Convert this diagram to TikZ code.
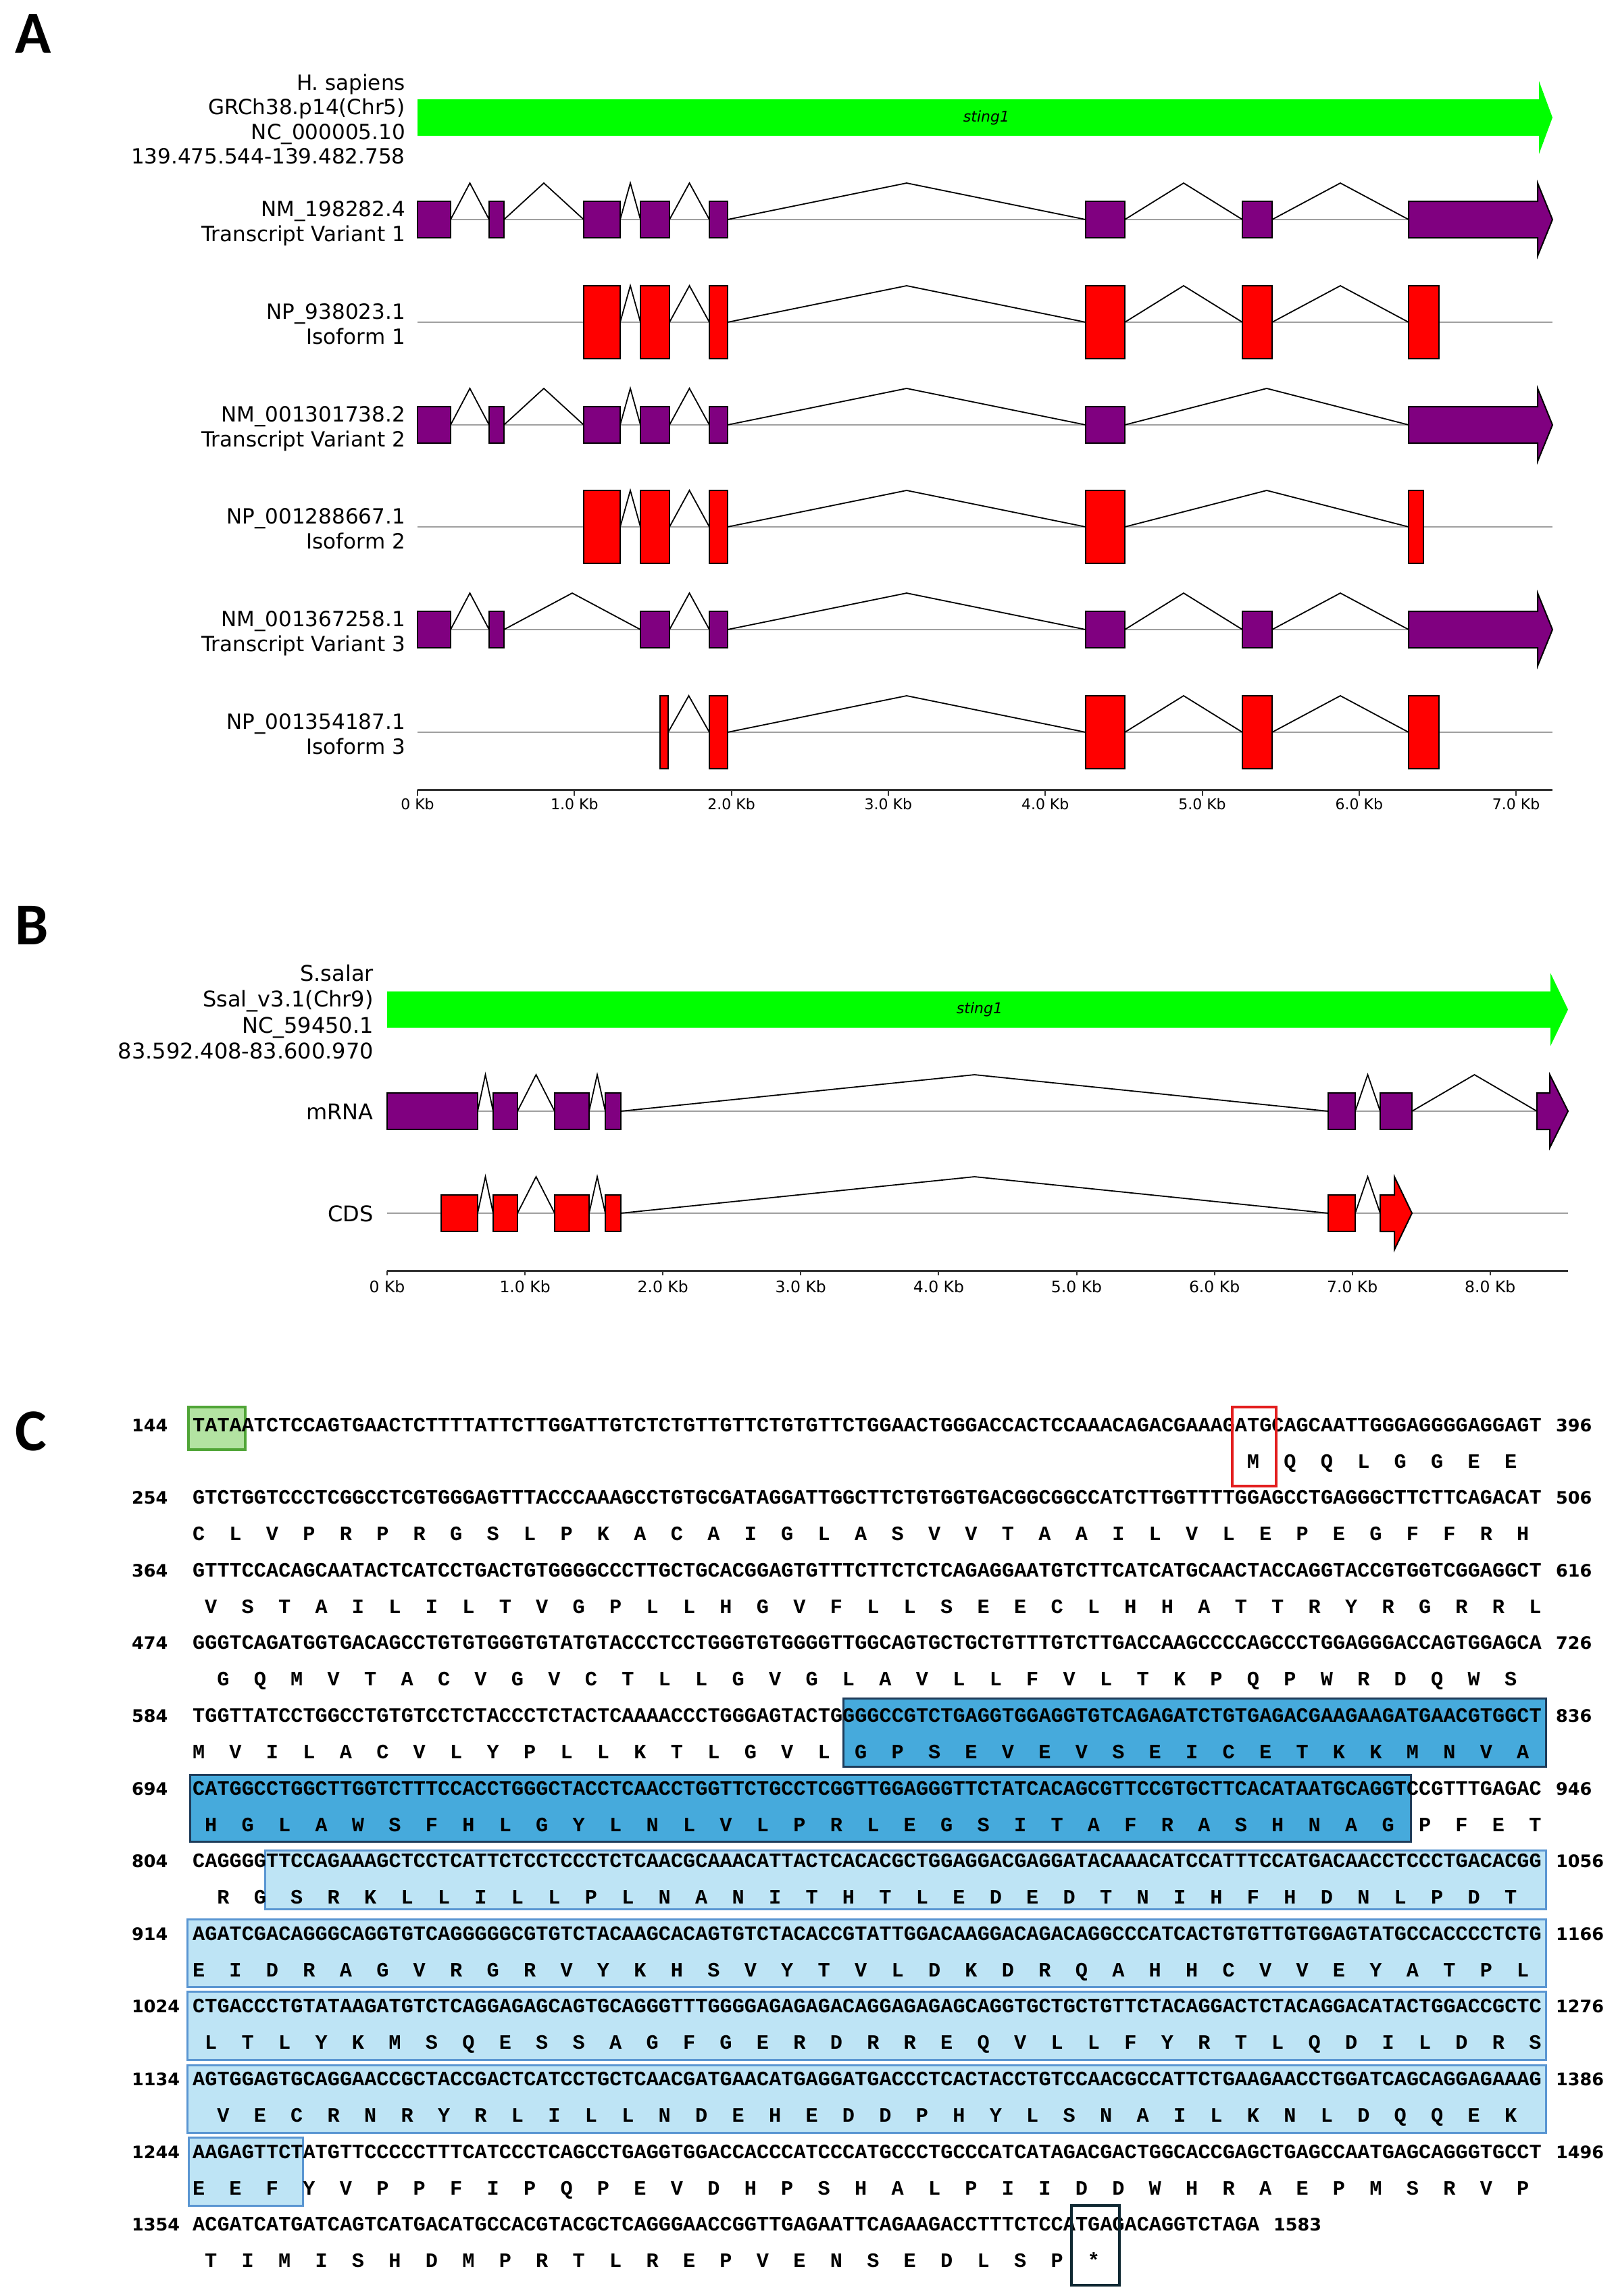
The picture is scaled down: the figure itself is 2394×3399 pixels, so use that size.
\documentclass[tikz,border=0pt]{standalone}
\usepackage{fontspec}
\setmainfont{DejaVu Sans}
\newfontfamily\seqfont{Liberation Mono}
\newfontfamily\panfont{Carlito}
\newfontfamily\numfont{DejaVu Sans}
\definecolor{exgreen}{HTML}{00FF00}
\definecolor{expurple}{HTML}{800080}
\definecolor{exred}{HTML}{FF0000}
\definecolor{linegray}{HTML}{A0A0A0}
\definecolor{axisgray}{HTML}{333333}
\definecolor{tataFill}{HTML}{B3E3A2}
\definecolor{tataDraw}{HTML}{50A537}
\definecolor{dkFill}{HTML}{46AADC}
\definecolor{dkDraw}{HTML}{1E3C5A}
\definecolor{ltFill}{HTML}{BEE4F5}
\definecolor{ltDraw}{HTML}{5A96D2}
\definecolor{atgDraw}{HTML}{E31E1E}
\definecolor{stopDraw}{HTML}{0F2832}
\tikzset{
  gline/.style={draw=linegray, line width=2.5},
  intr/.style={draw=black, line width=1.8},
  pex/.style={fill=expurple, draw=black, line width=2},
  rex/.style={fill=exred, draw=black, line width=2},
  lab/.style={inner sep=0, anchor=base east, font=\fontsize{31}{36}\selectfont},
  labB/.style={inner sep=0, anchor=base east, font=\fontsize{32}{38}\selectfont},
  tlA/.style={inner sep=0, anchor=base, font=\fontsize{22}{26}\selectfont},
  tlB/.style={inner sep=0, anchor=base, font=\fontsize{23.5}{28}\selectfont},
  axisln/.style={draw=axisgray, line width=3},
  tickln/.style={draw=axisgray, line width=2},
  panel/.style={inner sep=0, anchor=base west, font=\panfont\bfseries\fontsize{88}{100}\selectfont},
  nt/.style={inner sep=0, anchor=base west, font=\seqfont\bfseries\fontsize{30.25}{36}\selectfont},
  aa/.style={inner sep=0, anchor=base, font=\seqfont\bfseries\fontsize{30.25}{36}\selectfont},
  num/.style={inner sep=0, anchor=base west, font=\numfont\bfseries\fontsize{25.5}{30}\selectfont},
  genename/.style={inner sep=0, font=\itshape\fontsize{22}{26}\selectfont},
  ltbox/.style={fill=ltFill, draw=ltDraw, line width=3},
  dkbox/.style={fill=dkFill, draw=dkDraw, line width=3},
}
\newcommand\gEx[5]{\filldraw[#5] (#1,{#3-#4}) rectangle (#2,{#3+#4});}
\newcommand\gIn[3]{\draw[intr] (#1,#3) -- ({(#1+#2)/2},{#3-54}) -- (#2,#3);}
\newcommand\gArr[7]{\filldraw[#7] (#1,{#4-#5}) -- (#2,{#4-#5}) -- (#2,{#4-#6}) -- (#3,#4) -- (#2,{#4+#6}) -- (#2,{#4+#5}) -- (#1,{#4+#5}) -- cycle;}
\newcommand\aaRow[4]{\foreach \c [count=\i from 0] in {#4} {\node[aa] (#1-\i) at ({285+18.15*(#3+0.5+3*\i)},#2) {\c};}}
\begin{document}
\begin{tikzpicture}[x=1pt,y=-1pt]
\useasboundingbox[fill=white] (0,0) rectangle (2394,3399);

% ---------------- Panel A ----------------
\node[panel] (lA) at (22,78) {A};
\node[lab] (a1) at (600,133) {H. sapiens};
\node[lab] (a2) at (600,169.5) {GRCh38.p14(Chr5)};
\node[lab] (a3) at (600,206) {NC\_000005.10};
\node[lab] (a4) at (600,242) {139.475.544-139.482.758};
\fill[exgreen] (618,147) -- (2278,147) -- (2278,120) -- (2298,174) -- (2278,228) -- (2278,201) -- (618,201) -- cycle;
\node[genename] (gA) at (1460,174) {sting1};

% TV1
\draw[gline] (618,325) -- (2298,325);
\foreach \a/\b in {667/724,746/864,918/948,991/1050,1077/1607,1665/1839,1883/2085} {\gIn{\a}{\b}{325}}
\foreach \a/\b in {618/667,724/746,864/918,948/991,1050/1077,1607/1665,1839/1883} {\gEx{\a}{\b}{325}{27}{pex}}
\gArr{2085}{2276}{2298}{325}{27}{54}{pex}
\node[lab] (t1a) at (600,320.5) {NM\_198282.4};
\node[lab] (t1b) at (600,357) {Transcript Variant 1};
% Iso1
\draw[gline] (618,477) -- (2298,477);
\foreach \a/\b in {918/948,991/1050,1077/1607,1665/1839,1883/2085} {\gIn{\a}{\b}{477}}
\foreach \a/\b in {864/918,948/991,1050/1077,1607/1665,1839/1883,2085/2130} {\gEx{\a}{\b}{477}{54}{rex}}
\node[lab] (i1a) at (600,472.5) {NP\_938023.1};
\node[lab] (i1b) at (600,509) {Isoform 1};
% TV2
\draw[gline] (618,629) -- (2298,629);
\foreach \a/\b in {667/724,746/864,918/948,991/1050,1077/1607,1665/2085} {\gIn{\a}{\b}{629}}
\foreach \a/\b in {618/667,724/746,864/918,948/991,1050/1077,1607/1665} {\gEx{\a}{\b}{629}{27}{pex}}
\gArr{2085}{2276}{2298}{629}{27}{54}{pex}
\node[lab] (t2a) at (600,624.5) {NM\_001301738.2};
\node[lab] (t2b) at (600,661) {Transcript Variant 2};
% Iso2
\draw[gline] (618,780) -- (2298,780);
\foreach \a/\b in {918/948,991/1050,1077/1607,1665/2085} {\gIn{\a}{\b}{780}}
\foreach \a/\b in {864/918,948/991,1050/1077,1607/1665,2085/2107} {\gEx{\a}{\b}{780}{54}{rex}}
\node[lab] (i2a) at (600,775.5) {NP\_001288667.1};
\node[lab] (i2b) at (600,812) {Isoform 2};
% TV3
\draw[gline] (618,932) -- (2298,932);
\foreach \a/\b in {667/724,746/948,991/1050,1077/1607,1665/1839,1883/2085} {\gIn{\a}{\b}{932}}
\foreach \a/\b in {618/667,724/746,948/991,1050/1077,1607/1665,1839/1883} {\gEx{\a}{\b}{932}{27}{pex}}
\gArr{2085}{2276}{2298}{932}{27}{54}{pex}
\node[lab] (t3a) at (600,927.5) {NM\_001367258.1};
\node[lab] (t3b) at (600,964) {Transcript Variant 3};
% Iso3
\draw[gline] (618,1084) -- (2298,1084);
\foreach \a/\b in {989/1050,1077/1607,1665/1839,1883/2085} {\gIn{\a}{\b}{1084}}
\foreach \a/\b in {977/989,1050/1077,1607/1665,1839/1883,2085/2130} {\gEx{\a}{\b}{1084}{54}{rex}}
\node[lab] (i3a) at (600,1079.5) {NP\_001354187.1};
\node[lab] (i3b) at (600,1116) {Isoform 3};
% axis A
\draw[axisln] (618,1169) -- (2298,1169);
\foreach \k/\t in {0/0 Kb,1/1.0 Kb,2/2.0 Kb,3/3.0 Kb,4/4.0 Kb,5/5.0 Kb,6/6.0 Kb,7/7.0 Kb} {
  \draw[tickln] ({618+232.3*\k},1169) -- ({618+232.3*\k},1178);
  \node[tlA] (ta\k) at ({618+232.3*\k},1198) {\t};
}

% ---------------- Panel B ----------------
\node[panel] (lB) at (22,1398) {B};
\node[labB] (b1) at (553,1452) {S.salar};
\node[labB] (b2) at (553,1490) {Ssal\_v3.1(Chr9)};
\node[labB] (b3) at (553,1529) {NC\_59450.1};
\node[labB] (b4) at (553,1567) {83.592.408-83.600.970};
\fill[exgreen] (573,1467.5) -- (2295,1467.5) -- (2295,1440.5) -- (2321,1494.5) -- (2295,1548.5) -- (2295,1521.5) -- (573,1521.5) -- cycle;
\node[genename] (gB) at (1450,1494.5) {sting1};
% mRNA
\draw[gline] (573,1645) -- (2321,1645);
\foreach \a/\b in {707/730,766/821,872/896,919/1966,2006/2043,2090/2275} {\gIn{\a}{\b}{1645}}
\foreach \a/\b in {573/707,730/766,821/872,896/919,1966/2006,2043/2090} {\gEx{\a}{\b}{1645}{27}{pex}}
\gArr{2275}{2294}{2321}{1645}{27}{54}{pex}
\node[labB] (bm) at (553,1657) {mRNA};
% CDS
\draw[gline] (573,1796) -- (2321,1796);
\foreach \a/\b in {707/730,766/821,872/896,919/1966,2006/2043} {\gIn{\a}{\b}{1796}}
\foreach \a/\b in {653/707,730/766,821/872,896/919,1966/2006} {\gEx{\a}{\b}{1796}{27}{rex}}
\gArr{2043}{2064}{2090}{1796}{27}{54}{rex}
\node[labB] (bc) at (553,1808) {CDS};
% axis B
\draw[axisln] (573,1881) -- (2321,1881);
\foreach \k/\t in {0/0 Kb,1/1.0 Kb,2/2.0 Kb,3/3.0 Kb,4/4.0 Kb,5/5.0 Kb,6/6.0 Kb,7/7.0 Kb,8/8.0 Kb} {
  \draw[tickln] ({573+204.1*\k},1881) -- ({573+204.1*\k},1888);
  \node[tlB] (tb\k) at ({573+204.1*\k},1913) {\t};
}

% ---------------- Panel C ----------------
\node[panel] (lC) at (22,2147) {C};
% highlight boxes
\filldraw[fill=tataFill, draw=tataDraw, line width=4] (279,2083) rectangle (363,2146);
\filldraw[dkbox] (1248,2514) rectangle (2288,2615);
\filldraw[dkbox] (281,2627) rectangle (2088,2726);
\filldraw[ltbox] (392,2739) rectangle (2288,2826);
\filldraw[ltbox] (277,2841) rectangle (2288,2941);
\filldraw[ltbox] (277,2948) rectangle (2288,3049);
\filldraw[ltbox] (277,3057) rectangle (2288,3157);
\filldraw[ltbox] (279,3164) rectangle (448,3265);

% sequence rows
\node[num] (n1l) at (195,2119) {144};
\node[nt] (s1) at (285,2119) {TATAATCTCCAGTGAACTCTTTTATTCTTGGATTGTCTCTGTTGTTCTGTGTTCTGGAACTGGGACCACTCCAAACAGACGAAAGATGCAGCAATTGGGAGGGGAGGAGT};
\node[num] (n1r) at (2303,2119) {396};
\aaRow{p1}{2173}{86}{M,Q,Q,L,G,G,E,E}

\node[num] (n2l) at (195,2226.6) {254};
\node[nt] (s2) at (285,2226.6) {GTCTGGTCCCTCGGCCTCGTGGGAGTTTACCCAAAGCCTGTGCGATAGGATTGGCTTCTGTGGTGACGGCGGCCATCTTGGTTTTGGAGCCTGAGGGCTTCTTCAGACAT};
\node[num] (n2r) at (2303,2226.6) {506};
\aaRow{p2}{2280.6}{0}{C,L,V,P,R,P,R,G,S,L,P,K,A,C,A,I,G,L,A,S,V,V,T,A,A,I,L,V,L,E,P,E,G,F,F,R,H}

\node[num] (n3l) at (195,2334.2) {364};
\node[nt] (s3) at (285,2334.2) {GTTTCCACAGCAATACTCATCCTGACTGTGGGGCCCTTGCTGCACGGAGTGTTTCTTCTCTCAGAGGAATGTCTTCATCATGCAACTACCAGGTACCGTGGTCGGAGGCT};
\node[num] (n3r) at (2303,2334.2) {616};
\aaRow{p3}{2388.2}{1}{V,S,T,A,I,L,I,L,T,V,G,P,L,L,H,G,V,F,L,L,S,E,E,C,L,H,H,A,T,T,R,Y,R,G,R,R,L}

\node[num] (n4l) at (195,2441.8) {474};
\node[nt] (s4) at (285,2441.8) {GGGTCAGATGGTGACAGCCTGTGTGGGTGTATGTACCCTCCTGGGTGTGGGGTTGGCAGTGCTGCTGTTTGTCTTGACCAAGCCCCAGCCCTGGAGGGACCAGTGGAGCA};
\node[num] (n4r) at (2303,2441.8) {726};
\aaRow{p4}{2495.8}{2}{G,Q,M,V,T,A,C,V,G,V,C,T,L,L,G,V,G,L,A,V,L,L,F,V,L,T,K,P,Q,P,W,R,D,Q,W,S}

\node[num] (n5l) at (195,2549.4) {584};
\node[nt] (s5) at (285,2549.4) {TGGTTATCCTGGCCTGTGTCCTCTACCCTCTACTCAAAACCCTGGGAGTACTGGGGCCGTCTGAGGTGGAGGTGTCAGAGATCTGTGAGACGAAGAAGATGAACGTGGCT};
\node[num] (n5r) at (2303,2549.4) {836};
\aaRow{p5}{2603.4}{0}{M,V,I,L,A,C,V,L,Y,P,L,L,K,T,L,G,V,L,G,P,S,E,V,E,V,S,E,I,C,E,T,K,K,M,N,V,A}

\node[num] (n6l) at (195,2657) {694};
\node[nt] (s6) at (285,2657) {CATGGCCTGGCTTGGTCTTTCCACCTGGGCTACCTCAACCTGGTTCTGCCTCGGTTGGAGGGTTCTATCACAGCGTTCCGTGCTTCACATAATGCAGGTCCGTTTGAGAC};
\node[num] (n6r) at (2303,2657) {946};
\aaRow{p6}{2711}{1}{H,G,L,A,W,S,F,H,L,G,Y,L,N,L,V,L,P,R,L,E,G,S,I,T,A,F,R,A,S,H,N,A,G,P,F,E,T}

\node[num] (n7l) at (195,2764.6) {804};
\node[nt] (s7) at (285,2764.6) {CAGGGGTTCCAGAAAGCTCCTCATTCTCCTCCCTCTCAACGCAAACATTACTCACACGCTGGAGGACGAGGATACAAACATCCATTTCCATGACAACCTCCCTGACACGG};
\node[num] (n7r) at (2303,2764.6) {1056};
\aaRow{p7}{2818.6}{2}{R,G,S,R,K,L,L,I,L,L,P,L,N,A,N,I,T,H,T,L,E,D,E,D,T,N,I,H,F,H,D,N,L,P,D,T}

\node[num] (n8l) at (195,2872.2) {914};
\node[nt] (s8) at (285,2872.2) {AGATCGACAGGGCAGGTGTCAGGGGGCGTGTCTACAAGCACAGTGTCTACACCGTATTGGACAAGGACAGACAGGCCCATCACTGTGTTGTGGAGTATGCCACCCCTCTG};
\node[num] (n8r) at (2303,2872.2) {1166};
\aaRow{p8}{2926.2}{0}{E,I,D,R,A,G,V,R,G,R,V,Y,K,H,S,V,Y,T,V,L,D,K,D,R,Q,A,H,H,C,V,V,E,Y,A,T,P,L}

\node[num] (n9l) at (195,2979.8) {1024};
\node[nt] (s9) at (285,2979.8) {CTGACCCTGTATAAGATGTCTCAGGAGAGCAGTGCAGGGTTTGGGGAGAGAGACAGGAGAGAGCAGGTGCTGCTGTTCTACAGGACTCTACAGGACATACTGGACCGCTC};
\node[num] (n9r) at (2303,2979.8) {1276};
\aaRow{p9}{3033.8}{1}{L,T,L,Y,K,M,S,Q,E,S,S,A,G,F,G,E,R,D,R,R,E,Q,V,L,L,F,Y,R,T,L,Q,D,I,L,D,R,S}

\node[num] (n10l) at (195,3087.4) {1134};
\node[nt] (s10) at (285,3087.4) {AGTGGAGTGCAGGAACCGCTACCGACTCATCCTGCTCAACGATGAACATGAGGATGACCCTCACTACCTGTCCAACGCCATTCTGAAGAACCTGGATCAGCAGGAGAAAG};
\node[num] (n10r) at (2303,3087.4) {1386};
\aaRow{p10}{3141.4}{2}{V,E,C,R,N,R,Y,R,L,I,L,L,N,D,E,H,E,D,D,P,H,Y,L,S,N,A,I,L,K,N,L,D,Q,Q,E,K}

\node[num] (n11l) at (195,3195) {1244};
\node[nt] (s11) at (285,3195) {AAGAGTTCTATGTTCCCCCTTTCATCCCTCAGCCTGAGGTGGACCACCCATCCCATGCCCTGCCCATCATAGACGACTGGCACCGAGCTGAGCCAATGAGCAGGGTGCCT};
\node[num] (n11r) at (2303,3195) {1496};
\aaRow{p11}{3249}{0}{E,E,F,Y,V,P,P,F,I,P,Q,P,E,V,D,H,P,S,H,A,L,P,I,I,D,D,W,H,R,A,E,P,M,S,R,V,P}

\node[num] (n12l) at (195,3302.6) {1354};
\node[nt] (s12) at (285,3302.6) {ACGATCATGATCAGTCATGACATGCCACGTACGCTCAGGGAACCGGTTGAGAATTCAGAAGACCTTTCTCCATGAGACAGGTCTAGA};
\node[num] (n12r) at (1885,3302.6) {1583};
\aaRow{p12}{3356.6}{1}{T,I,M,I,S,H,D,M,P,R,T,L,R,E,P,V,E,N,S,E,D,L,S,P,*}

% outline boxes (start / stop codons)
\draw[draw=atgDraw, line width=4] (1824,2083) rectangle (1889,2200);
\draw[draw=stopDraw, line width=4] (1586,3265) rectangle (1657,3383);
\end{tikzpicture}
\end{document}
